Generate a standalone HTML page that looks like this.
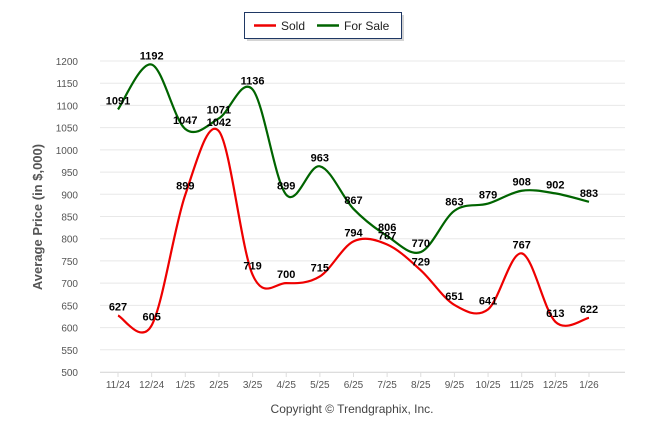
<!DOCTYPE html>
<html><head><meta charset="utf-8"><style>
body{margin:0;background:#fff;}
svg{display:block;font-family:"Liberation Sans",sans-serif;}
</style></head><body>
<svg id="chart" width="646" height="434">
<g>
<rect x="247" y="15" width="157" height="26" fill="#aaa" opacity="0.5"/>
<rect x="244.5" y="12.5" width="157" height="26" fill="#fff" stroke="#1f3864" stroke-width="1"/>
<g><line x1="254" y1="25.5" x2="276" y2="25.5" stroke="#e00" stroke-width="2.5"/><text x="281" y="30" font-size="12" fill="#222">Sold</text></g>
<g><line x1="317" y1="25.5" x2="339" y2="25.5" stroke="#006400" stroke-width="2.5"/><text x="344" y="30" font-size="12" fill="#222">For Sale</text></g>
</g>
<text transform="translate(42,217) rotate(-90)" text-anchor="middle" font-size="13" font-weight="bold" fill="#555">Average Price (in $,000)</text>
<text x="352" y="413" text-anchor="middle" font-size="12" fill="#444">Copyright © Trendgraphix, Inc.</text>
<g id="grid"></g><g id="series"></g><g id="labels"></g>
</svg>
<script>
const categories=["11/24","12/24","1/25","2/25","3/25","4/25","5/25","6/25","7/25","8/25","9/25","10/25","11/25","12/25","1/26"];
const sold=[627,605,899,1042,719,700,715,794,787,729,651,641,767,613,622];
const forSale=[1091,1192,1047,1071,1136,899,963,867,806,770,863,879,908,902,883];
const yTicks=[500,550,600,650,700,750,800,850,900,950,1000,1050,1100,1150,1200];
const NS="http://www.w3.org/2000/svg";
const x=i=>118+i*(589-118)/14;
const y=v=>372-(v-500)*(372-61)/700;
function mk(t,a,p){const e=document.createElementNS(NS,t);for(const k in a)e.setAttribute(k,a[k]);p.appendChild(e);return e;}
const grid=document.getElementById('grid');
yTicks.forEach(v=>{
 const l=mk('line',{x1:100,x2:625,y1:y(v),y2:y(v),stroke:'#e8e8e8','stroke-width':1},grid);
 
 
 const t=mk('text',{x:78,y:y(v)+4,'text-anchor':'end','font-size':10,fill:'#555'},grid);t.textContent=v;
 
 
});
mk('line',{x1:100,x2:625,y1:372.5,y2:372.5,stroke:'#ddd'},grid);
categories.forEach((c,i)=>{
 mk('line',{x1:x(i),x2:x(i),y1:372,y2:377,stroke:'#ddd'},grid);
 const t=mk('text',{x:x(i),y:388,'text-anchor':'middle','font-size':10,fill:'#555'},grid);t.textContent=c;
 
 
});
function path(d){
 const p=d.map((v,i)=>[x(i),y(v)]);let s='M'+p[0][0]+','+p[0][1];
 for(let i=0;i<p.length-1;i++){const p0=p[i-1]||p[i],p1=p[i],p2=p[i+1],p3=p[i+2]||p2;
  s+=' C'+(p1[0]+(p2[0]-p0[0])/6)+','+(p1[1]+(p2[1]-p0[1])/6)+' '+(p2[0]-(p3[0]-p1[0])/6)+','+(p2[1]-(p3[1]-p1[1])/6)+' '+p2[0]+','+p2[1];}
 return s;}
const sg=document.getElementById('series'),lg=document.getElementById('labels');
[[forSale,'#006400','for-sale'],[sold,'#e00','sold']].forEach(([d,c,n])=>{
 const p=mk('path',{d:path(d),fill:'none',stroke:c,'stroke-width':2.2},sg);
 
 
 d.forEach((v,i)=>{const t=mk('text',{x:x(i),y:y(v)-5,'text-anchor':'middle','font-size':11,'font-weight':'bold',fill:'#000'},lg);t.textContent=v;
  
  });
});
</script>
</body></html>
